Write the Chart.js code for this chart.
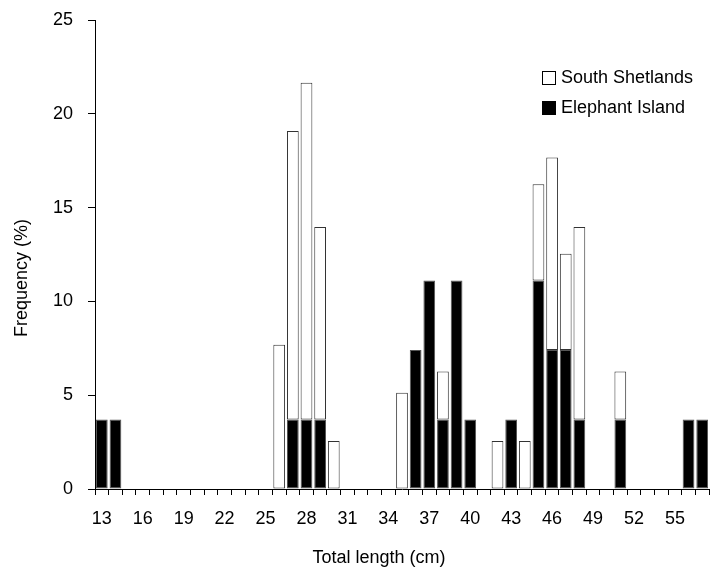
<!DOCTYPE html>
<html>
<head>
<meta charset="utf-8">
<script src="https://cdn.jsdelivr.net/npm/chart.js@4/dist/chart.umd.min.js"></script>
<style>
html,body{margin:0;padding:0;background:#fff;}
#wrap{width:712px;height:574px;}
</style>
</head>
<body>
<div id="wrap"><canvas id="c" width="712" height="574"></canvas></div>
<script>
// ---- Data ----
const categories = [13,14,15,16,17,18,19,20,21,22,23,24,25,26,27,28,29,30,31,32,33,34,35,36,37,38,39,40,41,42,43,44,45,46,47,48,49,50,51,52,53,54,55,56,57];
const xTickLabels = [13,16,19,22,25,28,31,34,37,40,43,46,49,52,55];
const yTickLabels = [0,5,10,15,20,25];
const seriesNames = ['South Shetlands','Elephant Island'];
// Elephant Island (bottom of stack, black)
const elephantIsland = [3.70,3.70,0,0,0,0,0,0,0,0,0,0,0,0,3.70,3.70,3.70,0,0,0,0,0,0,7.41,11.11,3.70,11.11,3.70,0,0,3.70,0,11.11,7.41,7.41,3.70,0,0,3.70,0,0,0,0,3.70,3.70];
// South Shetlands (stacked on top, white)
const southShetlands = [0,0,0,0,0,0,0,0,0,0,0,0,0,7.69,15.38,17.95,10.26,2.56,0,0,0,0,5.13,0,0,2.56,0,0,0,2.56,0,2.56,5.13,10.26,5.13,10.26,0,0,2.56,0,0,0,0,0,0];
const axisTitles = { x: 'Total length (cm)', y: 'Frequency (%)' };

const FONT = '"Liberation Sans", Arial, sans-serif';

const customDecor = {
  id: 'customDecor',
  afterDraw(chart) {
    const ctx = chart.ctx;
    ctx.save();
    ctx.fillStyle = '#000';
    ctx.font = '18px ' + FONT;
    // x-axis title
    ctx.textAlign = 'center';
    ctx.textBaseline = 'middle';
    ctx.fillText(axisTitles.x, 379, 558);
    // y-axis title
    ctx.save();
    ctx.translate(22, 278);
    ctx.rotate(-Math.PI / 2);
    ctx.fillText(axisTitles.y, 0, 0);
    ctx.restore();
    // legend
    const entries = [
      { text: seriesNames[0], ds: chart.data.datasets[1] },
      { text: seriesNames[1], ds: chart.data.datasets[0] }
    ];
    ctx.textAlign = 'left';
    ctx.textBaseline = 'alphabetic';
    entries.forEach((e, i) => {
      const by = 71.5 + i * 30;
      ctx.fillStyle = e.ds.backgroundColor;
      ctx.fillRect(542.5, by, 13, 13);
      ctx.strokeStyle = '#000';
      ctx.lineWidth = 1;
      ctx.strokeRect(542.5, by, 13, 13);
      ctx.fillStyle = '#000';
      ctx.fillText(e.text, 561, 83 + i * 30);
    });
    ctx.restore();
  }
};

new Chart(document.getElementById('c'), {
  type: 'bar',
  data: {
    labels: categories,
    datasets: [
      {
        label: seriesNames[1],
        data: elephantIsland,
        backgroundColor: '#000000',
        borderColor: '#555555',
        borderWidth: 1,
        borderSkipped: false,
        barPercentage: 0.86,
        categoryPercentage: 1.0
      },
      {
        label: seriesNames[0],
        data: southShetlands,
        backgroundColor: '#ffffff',
        borderColor: '#333333',
        borderWidth: 1,
        borderSkipped: false,
        barPercentage: 0.86,
        categoryPercentage: 1.0
      }
    ]
  },
  options: {
    responsive: false,
    animation: false,
    devicePixelRatio: 1,
    layout: { padding: { top: 20, right: 3, left: 0, bottom: 0 } },
    plugins: {
      legend: { display: false },
      tooltip: { enabled: false },
      title: { display: false }
    },
    scales: {
      x: {
        type: 'category',
        stacked: true,
        offset: true,
        grid: { offset: true, drawOnChartArea: false, drawTicks: true, tickLength: 6, color: '#000', lineWidth: 1 },
        border: { display: true, color: '#000', width: 1 },
        ticks: {
          autoSkip: false,
          maxRotation: 0,
          minRotation: 0,
          color: '#000',
          padding: 13,
          font: { family: FONT, size: 18 },
          callback: function(value, index) {
            const c = categories[index];
            return xTickLabels.includes(c) ? String(c) : '';
          }
        },
        afterFit: function(scale) { scale.height = 85; scale.paddingLeft = 0; scale.paddingRight = 0; }
      },
      y: {
        type: 'linear',
        stacked: true,
        min: 0,
        max: 25,
        grid: { drawOnChartArea: false, drawTicks: true, tickLength: 7, color: '#000', lineWidth: 1 },
        border: { display: true, color: '#000', width: 1 },
        ticks: {
          stepSize: 5,
          color: '#000',
          padding: 15,
          font: { family: FONT, size: 18 },
          callback: function(value) {
            return yTickLabels.includes(value) ? String(value) : '';
          }
        },
        afterFit: function(scale) { scale.width = 95; scale.paddingTop = 0; scale.paddingBottom = 0; }
      }
    }
  },
  plugins: [customDecor]
});
</script>
</body>
</html>
